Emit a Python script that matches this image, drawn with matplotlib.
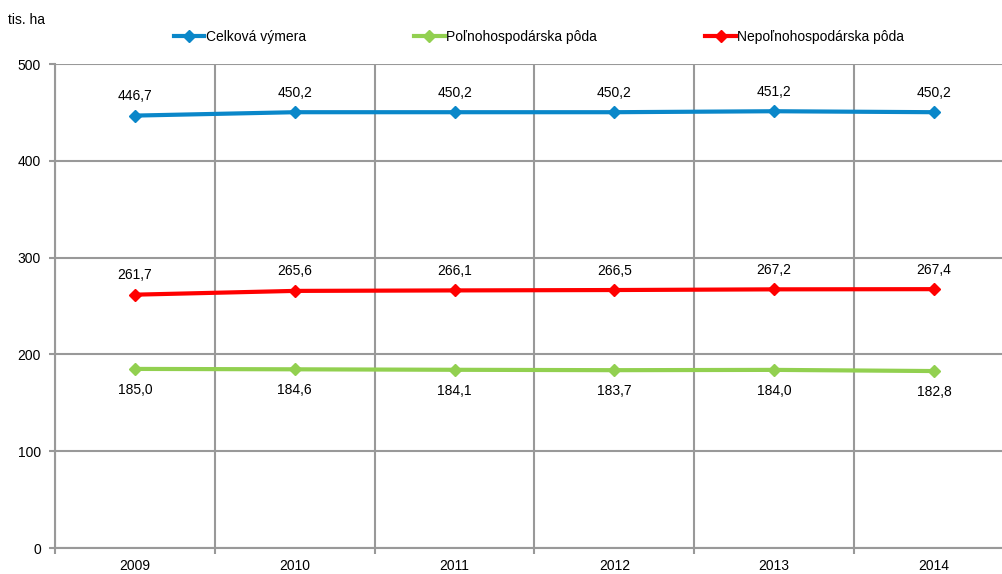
import matplotlib.pyplot as plt

plt.rcParams['font.family'] = ['Liberation Sans', 'DejaVu Sans']

years = ['2009', '2010', '2011', '2012', '2013', '2014']
celkova = [446.7, 450.2, 450.2, 450.2, 451.2, 450.2]
polno = [185.0, 184.6, 184.1, 183.7, 184.0, 182.8]
nepolno = [261.7, 265.6, 266.1, 266.5, 267.2, 267.4]

names = ['Celková výmera', 'Poľnohospodárska pôda', 'Nepoľnohospodárska pôda']
colors = ['#0a87c9', '#92d050', '#ff0000']

W, H = 1002, 574
fig = plt.figure(figsize=(W / 100, H / 100), dpi=100)
# plot area runs past the right edge of the picture, as in the original
ax = fig.add_axes([55 / W, 26 / H, (1014 - 55) / W, (548 - 64) / H])

x = list(range(len(years)))
series = [celkova, polno, nepolno]
offsets = [14, -15, 14]
for vals, name, col, off in zip(series, names, colors, offsets):
    ax.plot(x, vals, color=col, lw=3, marker='D', ms=6, label=name, zorder=3)
    for xi, v in zip(x, vals):
        ax.annotate(f'{v:.1f}'.replace('.', ','), (xi, v), xytext=(0, off),
                    textcoords='offset points', ha='center', va='center',
                    fontsize=10, color='#000000')

ax.set_xlim(-0.5, 5.5)
ax.set_ylim(0, 500)
ax.set_yticks(range(0, 501, 100))
ax.set_xticks(x)
ax.set_xticklabels(years)
ax.set_xticks([i - 0.5 for i in range(7)], minor=True)
ax.tick_params(axis='x', which='major', length=0, pad=8, labelsize=10)
ax.tick_params(axis='x', which='minor', length=4, color='#999999', width=1.5)
ax.tick_params(axis='y', length=4, color='#999999', width=1.5, labelsize=10, pad=6)
ax.grid(axis='y', color='#999999', lw=1.5)
ax.grid(axis='x', which='minor', color='#999999', lw=1.5)
ax.set_axisbelow(True)
for s in ['top', 'right']:
    ax.spines[s].set_visible(False)
for s in ['left', 'bottom']:
    ax.spines[s].set_color('#999999')
    ax.spines[s].set_linewidth(1.5)

fig.text(8 / W, 1 - 20 / H, 'tis. ha', fontsize=10, va='center', ha='left')
fig.legend(loc='center', bbox_to_anchor=(539 / W, 1 - 37 / H), ncol=3,
           frameon=False, fontsize=10, handlelength=2.2, handletextpad=0.1,
           columnspacing=7.8)

fig.savefig('out.png', dpi=100)
